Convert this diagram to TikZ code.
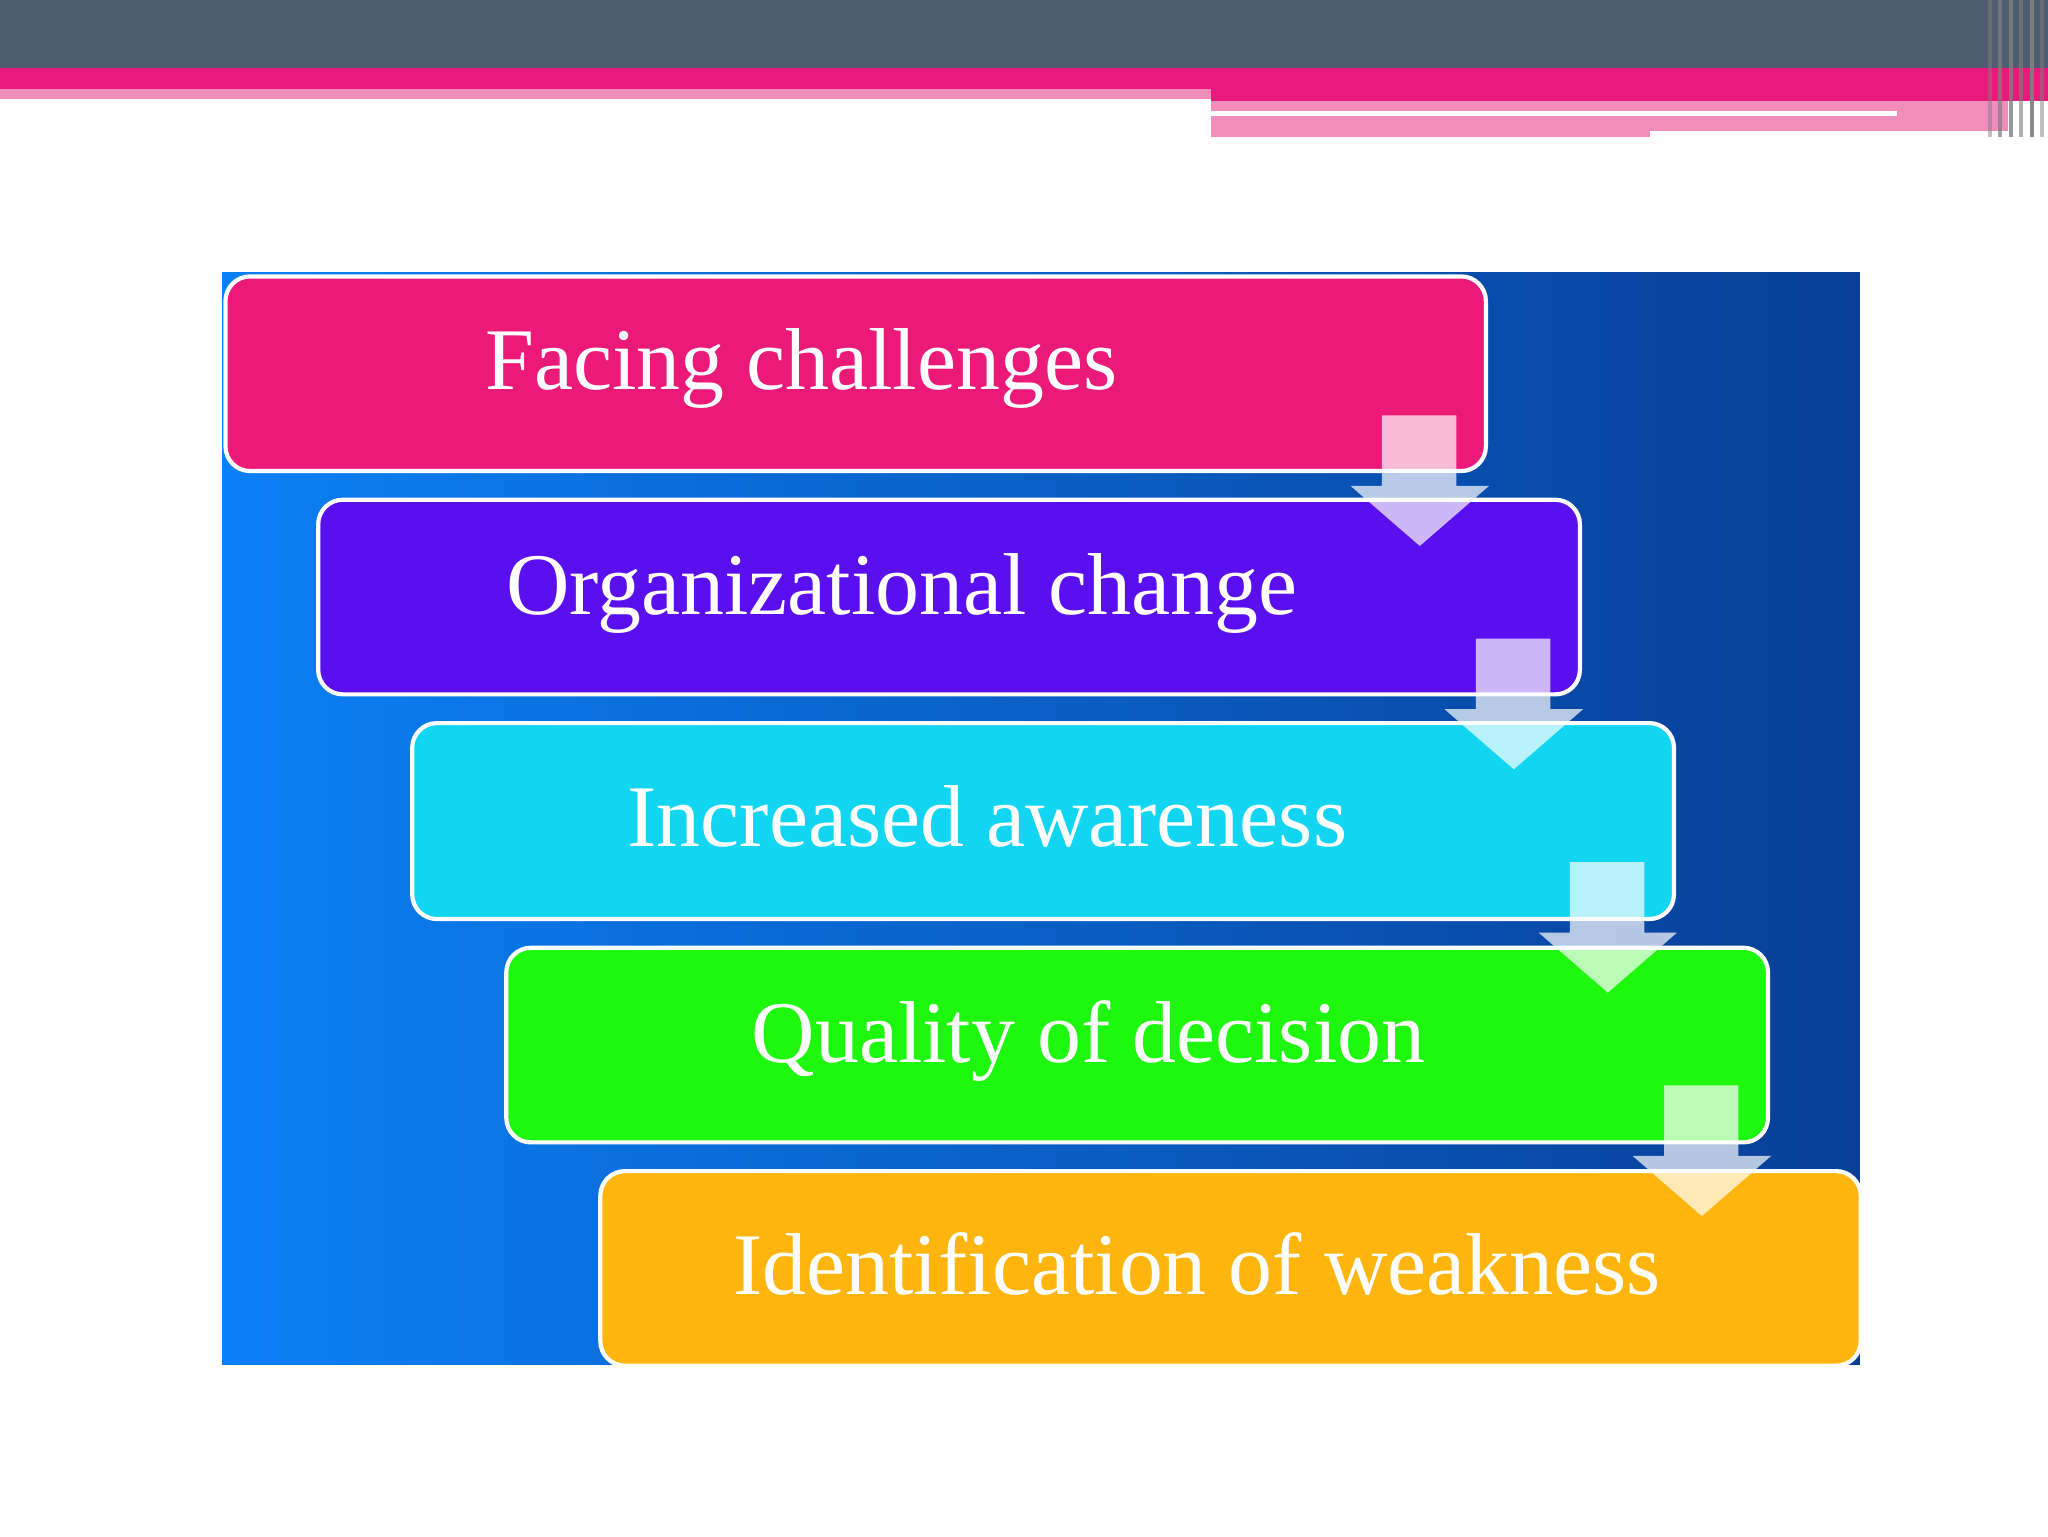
\documentclass[tikz,border=0pt]{standalone}
\usepackage{fontspec}
\setmainfont{Liberation Serif}
\begin{document}
\begin{tikzpicture}[x=0.1306mm,y=-0.1306mm,
  box/.style={draw=white,line width=1.2pt,rounded corners=7pt,anchor=north west,inner sep=0pt},
  lbl/.style={anchor=west,text=white,font=\fontsize{25}{28}\selectfont},
  arr/.style={fill=white,fill opacity=0.7,draw=none}]
\useasboundingbox (0,0) rectangle (1568,1176);
\fill[white] (0,0) rectangle (1568,1176);
% header
\fill[fill={rgb,255:red,79;green,91;blue,110}] (0,0) rectangle (1568,52);
\fill[fill={rgb,255:red,232;green,25;blue,122}] (0,52) rectangle (927,68);
\fill[fill={rgb,255:red,232;green,25;blue,122}] (927,52) rectangle (1568,77);
\fill[fill={rgb,255:red,242;green,141;blue,187}] (0,68) rectangle (927,76);
\fill[fill={rgb,255:red,242;green,141;blue,187}] (927,77) rectangle (1537,100);
\fill[fill={rgb,255:red,242;green,141;blue,187}] (927,100) rectangle (1263,105);
\fill[white] (927,85) rectangle (1452,89);
\foreach \xx/\op in {1522/0.5,1530/0.7,1538/0.8,1546/0.6,1554/0.9,1562/0.5}
  \fill[gray,opacity=\op] (\xx,0) rectangle ++(3,105);
% panel
\shade[shading=axis,shading angle=135,left color={rgb,255:red,10;green,128;blue,245},right color={rgb,255:red,8;green,62;blue,150}] (170,209) rectangle (1424,1045);
\definecolor{c1}{RGB}{235,26,120}
\definecolor{c2}{RGB}{90,16,238}
\definecolor{c3}{RGB}{18,213,242}
\definecolor{c4}{RGB}{30,247,14}
\definecolor{c5}{RGB}{254,182,15}
\node[box,fill=c1,minimum width=965*0.1306mm,minimum height=149*0.1306mm] (b1) at (171,210) {};
\node[box,fill=c2,minimum width=966*0.1306mm,minimum height=149*0.1306mm] (b2) at (242,381) {};
\node[box,fill=c3,minimum width=966*0.1306mm,minimum height=150*0.1306mm] (b3) at (314,552) {};
\node[box,fill=c4,minimum width=966*0.1306mm,minimum height=149*0.1306mm] (b4) at (386,724) {};
\node[box,fill=c5,minimum width=965*0.1306mm,minimum height=149*0.1306mm] (b5) at (458,895) {};
\node[lbl] (t1) at (362,282) {Facing challenges};
\node[lbl] (t2) at (378,454) {Organizational change};
\node[lbl] (t3) at (471,625) {Increased awareness};
\node[lbl] (t4) at (566,797) {Quality of decision};
\node[lbl] (t5) at (552,968) {Identification of weakness};
\foreach \i in {0,1,2,3}{
  \fill[arr] (1058+72*\i,318+171*\i) -- (1115+72*\i,318+171*\i) -- (1115+72*\i,372+171*\i)
    -- (1140+72*\i,372+171*\i) -- (1087+72*\i,418+171*\i) -- (1034+72*\i,372+171*\i)
    -- (1058+72*\i,372+171*\i) -- cycle;
}
\end{tikzpicture}
\end{document}
